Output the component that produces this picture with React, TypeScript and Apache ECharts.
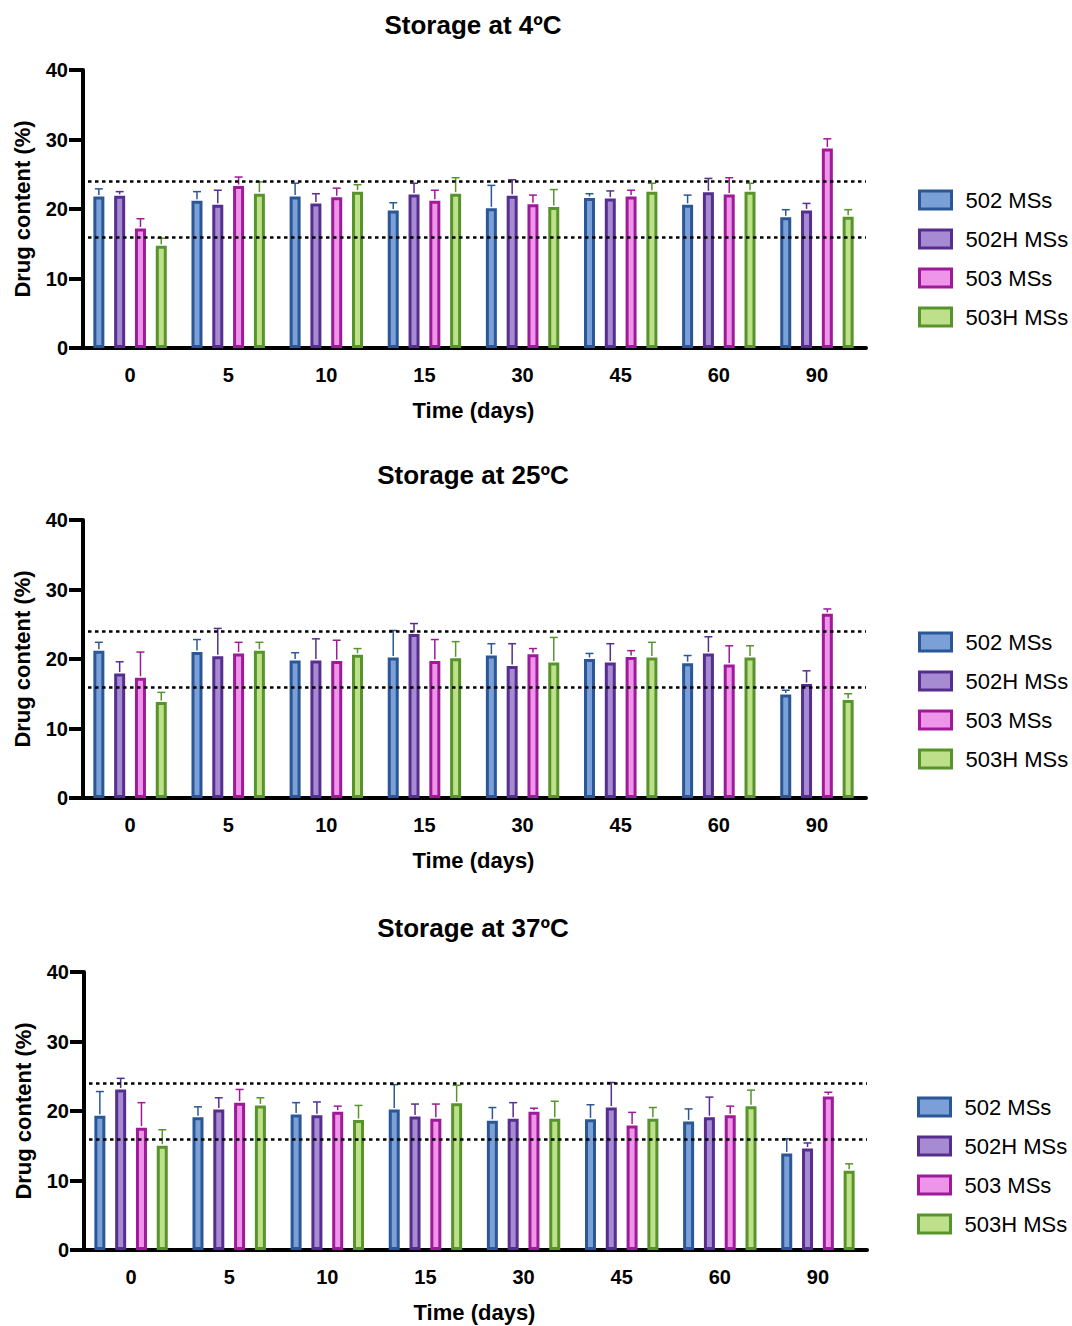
import React, { useEffect, useRef } from "react";
import * as echarts from "echarts";

const categories = ["0", "5", "10", "15", "30", "45", "60", "90"];
const seriesNames = ["502 MSs", "502H MSs", "503 MSs", "503H MSs"];
const panelTitles = ["Storage at 4ºC", "Storage at 25ºC", "Storage at 37ºC"];
const yTicks = [0, 10, 20, 30, 40];
const limitLines = [24, 16];

// 4 ºC
const m4_502 = [21.8, 21.2, 21.8, 19.8, 20.1, 21.6, 20.6, 18.8];
const sd4_502 = [1.1, 1.3, 1.9, 1.1, 3.3, 0.6, 1.4, 1.1];
const m4_502H = [21.9, 20.6, 20.8, 22.1, 21.9, 21.5, 22.4, 19.8];
const sd4_502H = [0.6, 2.1, 1.4, 1.6, 2.3, 1.1, 2.0, 1.0];
const m4_503 = [17.2, 23.3, 21.7, 21.2, 20.7, 21.8, 22.1, 28.7];
const sd4_503 = [1.4, 1.3, 1.3, 1.5, 1.3, 0.9, 2.4, 1.4];
const m4_503H = [14.7, 22.2, 22.5, 22.2, 20.3, 22.5, 22.5, 18.9];
const sd4_503H = [1.1, 1.7, 1.0, 2.3, 2.5, 1.2, 1.2, 1.0];

// 25 ºC
const m25_502 = [21.2, 21.0, 19.8, 20.2, 20.5, 20.0, 19.4, 14.9];
const sd25_502 = [1.2, 1.8, 1.1, 3.9, 1.7, 0.8, 1.1, 0.6];
const m25_502H = [17.9, 20.4, 19.8, 23.6, 19.0, 19.5, 20.8, 16.4];
const sd25_502H = [1.7, 4.0, 3.1, 1.5, 3.2, 2.7, 2.4, 1.9];
const m25_503 = [17.3, 20.8, 19.7, 19.7, 20.7, 20.3, 19.2, 26.5];
const sd25_503 = [3.7, 1.6, 3.0, 3.1, 0.8, 0.9, 2.7, 0.7];
const m25_503H = [13.8, 21.2, 20.6, 20.1, 19.5, 20.2, 20.2, 14.1];
const sd25_503H = [1.4, 1.2, 0.9, 2.4, 3.6, 2.2, 1.7, 0.9];

// 37 ºC
const m37_502 = [19.3, 19.1, 19.5, 20.2, 18.6, 18.8, 18.5, 13.9];
const sd37_502 = [3.5, 1.5, 1.7, 3.6, 1.9, 2.1, 1.8, 2.1];
const m37_502H = [23.1, 20.2, 19.4, 19.2, 18.9, 20.5, 19.1, 14.6];
const sd37_502H = [1.6, 1.7, 1.9, 1.8, 2.3, 3.6, 2.9, 0.8];
const m37_503 = [17.6, 21.2, 19.9, 18.9, 19.9, 17.9, 19.4, 22.1];
const sd37_503 = [3.6, 1.9, 0.8, 2.1, 0.5, 1.9, 1.3, 0.6];
const m37_503H = [15.0, 20.8, 18.7, 21.1, 18.9, 18.9, 20.7, 11.4];
const sd37_503H = [2.3, 1.1, 2.1, 2.6, 2.5, 1.6, 2.3, 1.0];

const panelMeans = [
  [m4_502, m4_502H, m4_503, m4_503H],
  [m25_502, m25_502H, m25_503, m25_503H],
  [m37_502, m37_502H, m37_503, m37_503H],
];
const panelSDs = [
  [sd4_502, sd4_502H, sd4_503, sd4_503H],
  [sd25_502, sd25_502H, sd25_503, sd25_503H],
  [sd37_502, sd37_502H, sd37_503, sd37_503H],
];

const borderColors = ["#2B5796", "#562E8E", "#9E1A99", "#57942B"];
const fillColors = ["#7AA0D7", "#A68BD3", "#EE95EA", "#BEE08A"];

const FONT = "'Liberation Sans', Arial, Helvetica, sans-serif";
const gridTops = [70, 520, 972];
const gridLefts = [81, 81, 82];
const legendLefts = [913, 913, 912];
const legendTops = [184, 626, 1091];
const titleTops = [7, 457, 910];
const BAR_W = 11;
const BAR_STEP = 20.8;

export default function App() {
  const ref = useRef<HTMLDivElement>(null);
  useEffect(() => {
    if (!ref.current) return;
    const chart = echarts.init(ref.current, null, { renderer: "svg" });
    const title: any[] = [];
    const grid: any[] = [];
    const xAxis: any[] = [];
    const yAxis: any[] = [];
    const legend: any[] = [];
    const series: any[] = [];
    for (let p = 0; p < 3; p++) {
      title.push({
        text: panelTitles[p],
        left: 468,
        textAlign: "center",
        top: titleTops[p],
        textStyle: { fontFamily: FONT, fontSize: 26, fontWeight: "bold", color: "#000" },
      });
      grid.push({ left: gridLefts[p], top: gridTops[p], width: 785, height: 278 });
      xAxis.push({
        type: "category",
        gridIndex: p,
        data: categories,
        name: "Time (days)",
        nameLocation: "middle",
        nameGap: 51,
        nameTextStyle: { fontFamily: FONT, fontSize: 22, fontWeight: "bold", color: "#000" },
        axisLine: { lineStyle: { color: "#000", width: 4 } },
        axisTick: { alignWithLabel: true, length: 12, lineStyle: { width: 4, color: "#000" } },
        axisLabel: { fontFamily: FONT, fontSize: 20, fontWeight: "bold", color: "#000", margin: 17 },
      });
      yAxis.push({
        type: "value",
        gridIndex: p,
        offset: -2,
        min: yTicks[0],
        max: yTicks[yTicks.length - 1],
        interval: 10,
        name: "Drug content (%)",
        nameLocation: "middle",
        nameGap: 50,
        nameTextStyle: { fontFamily: FONT, fontSize: 22, fontWeight: "bold", color: "#000" },
        axisLine: { show: true, lineStyle: { color: "#000", width: 4 } },
        axisTick: { show: true, length: 14, lineStyle: { width: 4, color: "#000" } },
        splitLine: { show: false },
        axisLabel: { fontFamily: FONT, fontSize: 20, fontWeight: "bold", color: "#000", margin: 15 },
      });
      legend.push({
        data: seriesNames,
        orient: "vertical",
        left: legendLefts[p],
        top: legendTops[p],
        icon: "rect",
        itemWidth: 32,
        itemHeight: 18,
        itemGap: 17,
        itemStyle: { borderWidth: 3 },
        textStyle: { fontFamily: FONT, fontSize: 22, color: "#000", padding: [0, 0, 0, 9] },
        selectedMode: false,
      });
      for (let s = 0; s < 4; s++) {
        const bar: any = {
          type: "bar",
          name: seriesNames[s],
          xAxisIndex: p,
          yAxisIndex: p,
          data: panelMeans[p][s],
          barWidth: BAR_W,
          barGap: ((BAR_STEP - BAR_W) / BAR_W) * 100 + "%",
          itemStyle: { color: fillColors[s], borderColor: borderColors[s], borderWidth: 3 },
        };
        if (s === 0) {
          bar.markLine = {
            silent: true,
            symbol: "none",
            label: { show: false },
            lineStyle: { color: "#000", width: 2.5, type: [3.5, 3.5] },
            data: limitLines.map((v) => ({ yAxis: v })),
          };
        }
        series.push(bar);
      }
      for (let s = 0; s < 4; s++) {
        const errData = panelMeans[p][s].map((m, i) => [i, m, m + panelSDs[p][s][i]]);
        series.push({
          type: "custom",
          name: "err" + p + "_" + s,
          xAxisIndex: p,
          yAxisIndex: p,
          z: 3,
          data: errData,
          renderItem: (params: any, api: any) => {
            const c = api.value(0);
            const base = api.coord([c, api.value(1)]);
            const top = api.coord([c, api.value(2)]);
            const x = base[0] + (s - 1.5) * BAR_STEP;
            const st = { stroke: borderColors[s], lineWidth: 1.5 };
            return {
              type: "group",
              children: [
                { type: "line", shape: { x1: x, y1: base[1] - 1.5, x2: x, y2: top[1] }, style: st },
                { type: "line", shape: { x1: x - 4, y1: top[1], x2: x + 4, y2: top[1] }, style: st },
              ],
            };
          },
        });
      }
    }
    chart.setOption({
      animation: false,
      backgroundColor: "#fff",
      title,
      grid,
      xAxis,
      yAxis,
      legend,
      series,
    });
    return () => chart.dispose();
  }, []);
  return (
    <div
      ref={ref}
      style={{ position: "fixed", left: 0, top: 0, width: 1072, height: 1326, background: "#fff" }}
    />
  );
}
